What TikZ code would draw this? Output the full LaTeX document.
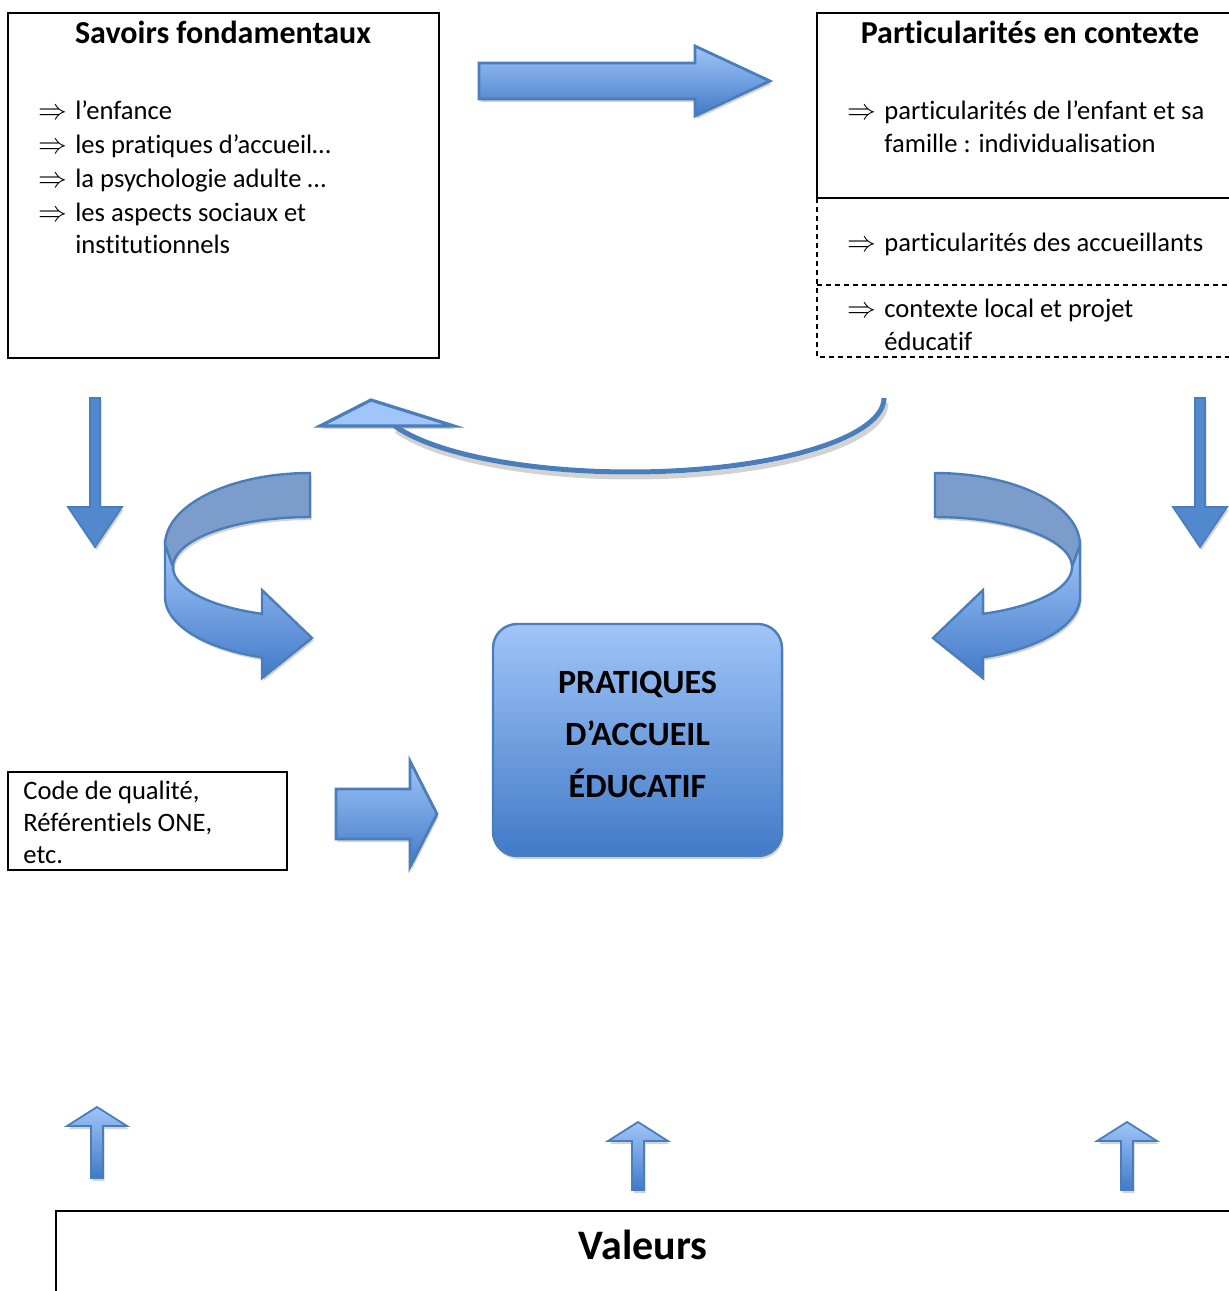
\documentclass[tikz,border=0pt]{standalone}
\usepackage{fontspec}
\setmainfont{Carlito}[Ligatures=NoCommon]
\usepackage{tikz}
\usetikzlibrary{shadows}

\definecolor{arrline}{RGB}{74,126,187}
\definecolor{arrlight}{RGB}{160,197,248}
\definecolor{arrdark}{RGB}{66,122,200}
\definecolor{arrmid}{RGB}{82,136,206}
\definecolor{arrback}{RGB}{124,156,204}

\tikzset{
  box/.style={line width=1pt},
  dbox/.style={line width=1pt, dash pattern=on 2.5pt off 2pt},
  shd/.style={drop shadow={opacity=0.35, shadow xshift=0.8pt, shadow yshift=-1.5pt}},
  blockarr/.style={draw=arrline, line width=1.4pt, line join=miter, top color=arrlight, bottom color=arrdark, shd},
  thinarr/.style={draw=arrline, line width=0.9pt, line join=miter, fill=arrmid, shd},
  uparr/.style={draw=arrline, line width=0.9pt, line join=miter, top color=arrlight, bottom color=arrdark, shd},
  uback/.style={draw=arrline, line width=1.2pt, fill=arrback, shd},
  item/.style={anchor=base west, inner sep=0pt, font=\fontsize{13.3}{16}\selectfont},
  bul/.style={anchor=base west, inner sep=0pt, font=\fontsize{13.3}{16}\selectfont},
  title/.style={anchor=base, inner sep=0pt, font=\bfseries\fontsize{16}{19}\selectfont}
}

\begin{document}
\begin{tikzpicture}[x=0.5pt, y=-0.5pt]
\useasboundingbox (0,0) rectangle (1229,1291);

% boxes
\draw[box] (8,13) rectangle (439,358);
\draw[box] (1240,198) -- (817,198) -- (817,13) -- (1240,13);
\draw[dbox] (817,198) -- (817,357) -- (1240,357);
\draw[dbox] (817,285) -- (1240,285);
\draw[box] (8,772) rectangle (287,870);
\draw[box] (1240,1211) -- (56,1211) -- (56,1300);

% savoirs
\node[title] (savoirs) at (223,43) {Savoirs fondamentaux};
\foreach \y/\txt [count=\i] in {119/{l’enfance}, 153/{les pratiques d’accueil…}, 187/{la psychologie adulte …}, 221/{les aspects sociaux et}} {
  \node[bul] (sb\i) at (38,\y) {$\Rightarrow$};
  \node[item] (si\i) at (75,\y) {\txt};
}
\node[item] (si5) at (75,253) {institutionnels};

% particularites
\node[title] (partic) at (1030,43) {Particularités en contexte};
\node[bul] (pb1) at (847,119) {$\Rightarrow$};
\node[item] (pi1) at (884,119) {particularités de l’enfant et sa};
\node[item] (pi2) at (884,152) {famille : individualisation};
\node[bul] (pb2) at (847,251) {$\Rightarrow$};
\node[item] (pi3) at (884,251) {particularités des accueillants};
\node[bul] (pb3) at (847,317) {$\Rightarrow$};
\node[item] (pi4) at (884,317) {contexte local et projet};
\node[item] (pi5) at (884,350) {éducatif};

% code de qualite
\node[item] (code1) at (23,799) {Code de qualité,};
\node[item] (code2) at (23,831) {Référentiels ONE,};
\node[item] (code3) at (23,863) {etc.};

% pratiques
\node[draw=arrline, line width=1.2pt, rounded corners=12pt, top color=arrlight, bottom color=arrdark,
      minimum width=144.5pt, minimum height=116pt, shd] (pratiques) at (637.5,740) {};
\node[align=center, inner sep=0pt, font=\bfseries\fontsize{17}{26}\selectfont] (ptext) at (637.5,734)
  {PRATIQUES\\D’ACCUEIL\\ÉDUCATIF};

% valeurs
\node[anchor=base, inner sep=0pt, font=\bfseries\fontsize{21}{25}\selectfont] (valeurs) at (643,1259) {Valeurs};

% block arrows
\path[blockarr] (479,63) -- (695,63) -- (695,46) -- (770,81) -- (695,116) -- (695,99) -- (479,99) -- cycle;
\path[blockarr] (336,789) -- (410,789) -- (410,761) -- (437,814) -- (410,867) -- (410,839) -- (336,839) -- cycle;

% thin arrows
\foreach \x in {95,1200}
  \path[thinarr] (\x-5,398) -- (\x+5,398) -- (\x+5,507) -- (\x+27,507) -- (\x,547) -- (\x-27,507) -- (\x-5,507) -- cycle;
\foreach \x/\t/\b in {97/1107/1178, 638/1122/1190, 1127/1122/1190}
  \path[uparr] (\x-6,\b) -- (\x-6,\t+19) -- (\x-30,\t+19) -- (\x,\t) -- (\x+30,\t+19) -- (\x+6,\t+19) -- (\x+6,\b) -- cycle;

% curved arrow on top
\draw[gray!35, line width=2.5pt, shift={(2,5)}] plot[domain=0:158, variable=\t, samples=60] ({630+254*cos(\t)},{398+74*sin(\t)});
\draw[arrline, line width=2.5pt] plot[domain=0:158, variable=\t, samples=60] ({630+254*cos(\t)},{398+74*sin(\t)});
\path[draw=arrline, line width=1.6pt, line join=miter, fill=arrlight, shd] (320,426) -- (371,400) -- (454,426) -- cycle;

% u-turn arrows
\foreach \s/\o in {1/0, -1/1245} {
\begin{scope}[shift={(\o,0)}, xscale=\s]
\path[uback] (310,473) -- plot[domain=90:180, variable=\t, samples=30] ({310+145*cos(\t)},{545-72*sin(\t)})
  -- (173,567) -- plot[domain=180:90, variable=\t, samples=30] ({310+137*cos(\t)},{567-50*sin(\t)}) -- cycle;
\path[blockarr, line width=1.2pt] (165,545) -- (165,597) -- plot[domain=180:250.7, variable=\t, samples=30] ({310+145*cos(\t)},{597-64*sin(\t)})
  -- (262,678) -- (312,638) -- (262,590)
  -- plot[domain=249.5:180, variable=\t, samples=30] ({310+137*cos(\t)},{567-50*sin(\t)}) -- cycle;
\end{scope}
}
\end{tikzpicture}
\end{document}
